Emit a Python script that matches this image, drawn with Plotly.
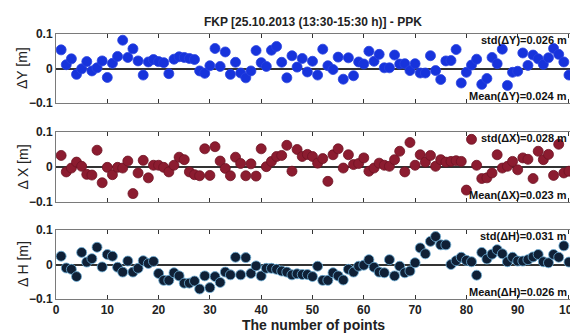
import plotly.graph_objects as go

points = list(range(1, 101))

dY = [0.054, 0.011, 0.028, -0.017, -0.001, 0.020, -0.007, 0.002, 0.022, -0.026,
      0.015, 0.035, 0.082, 0.032, 0.057, 0.022, -0.019, 0.019, 0.026, 0.020,
      0.017, -0.015, 0.027, 0.034, 0.032, 0.029, 0.026, -0.007, -0.014, 0.008,
      0.058, 0.006, 0.048, -0.017, 0.018, -0.013, -0.027, -0.007, 0.052, 0.017,
      0.006, 0.053, 0.064, 0.018, -0.027, 0.037, 0.004, 0.029, -0.010, 0.021,
      -0.019, 0.056, 0.008, -0.003, 0.033, -0.031, 0.031, -0.021, 0.019, 0.013,
      0.050, 0.021, 0.041, 0.002, 0.002, 0.039, 0.013, 0.014, -0.006, 0.014,
      -0.013, -0.013, 0.037, -0.006, -0.032, 0.022, 0.023, 0.055, -0.042, -0.011,
      0.010, 0.027, -0.046, -0.029, 0.032, 0.014, 0.056, -0.049, -0.011, -0.008,
      0.045, 0.009, 0.039, 0.028, 0.012, 0.031, 0.058, 0.041, 0.019, -0.019]

dX = [0.033, -0.014, -0.003, 0.014, 0.002, -0.021, -0.023, 0.048, -0.045, -0.001,
      -0.022, -0.001, -0.003, 0.017, -0.076, -0.017, 0.019, -0.031, 0.005, 0.005,
      -0.001, -0.014, 0.005, 0.028, 0.021, -0.014, -0.022, -0.025, 0.052, -0.024,
      0.058, 0.017, -0.004, -0.025, 0.028, 0.010, -0.025, 0.009, -0.026, 0.052,
      0.001, 0.016, 0.030, 0.033, 0.062, -0.012, 0.050, 0.030, 0.036, 0.030,
      0.011, 0.024, -0.041, 0.035, 0.052, -0.003, 0.035, 0.007, 0.010, 0.026,
      -0.012, -0.003, 0.011, 0.005, 0.002, 0.021, 0.045, -0.014, 0.070, 0.005,
      0.035, 0.014, 0.033, 0.002, 0.021, 0.014, 0.016, 0.018, 0.016, -0.066,
      0.079, 0.005, -0.033, -0.031, -0.017, 0.035, -0.003, 0.002, 0.016, -0.008,
      0.026, 0.022, -0.033, 0.045, 0.021, 0.036, -0.024, 0.065, -0.017, -0.012]

dH = [0.024, -0.010, -0.014, -0.035, 0.035, 0.007, 0.017, 0.050, -0.007, 0.029,
      0.024, -0.008, -0.022, 0.010, -0.022, -0.011, 0.011, 0.003, 0.009, -0.026,
      -0.046, -0.046, -0.024, -0.033, -0.054, -0.054, -0.048, -0.071, -0.033, -0.067,
      -0.035, -0.052, -0.022, -0.030, 0.021, -0.030, 0.020, -0.026, -0.004, -0.033,
      -0.011, -0.011, -0.014, -0.019, -0.022, -0.030, -0.027, -0.029, -0.029, -0.035,
      -0.005, -0.046, -0.046, -0.024, -0.033, -0.045, -0.014, -0.022, -0.005, -0.002,
      0.014, -0.008, -0.022, -0.024, 0.014, -0.033, -0.005, -0.024, -0.019, 0.005,
      0.048, 0.031, 0.067, 0.081, 0.057, 0.057, 0.000, 0.011, 0.021, 0.012,
      0.008, -0.031, 0.035, 0.016, 0.030, 0.043, 0.031, 0.008, 0.021, 0.010,
      0.010, 0.014, 0.022, 0.029, 0.008, 0.005, 0.029, 0.021, 0.054, 0.007]

y_titles = ["\u0394Y [m]", "\u0394 X [m]", "\u0394 H [m]"]
std_texts = ["std(\u0394Y)=0.026 m", "std(\u0394X)=0.028 m", "std(\u0394H)=0.031 m"]
mean_texts = ["Mean(\u0394Y)=0.024 m", "Mean(\u0394X)=0.023 m", "Mean(\u0394H)=0.026 m"]
title_text = "FKP [25.10.2013 (13:30-15:30 h)] - PPK"
x_title = "The number of points"
x_ticks = [0, 10, 20, 30, 40, 50, 60, 70, 80, 90, 100]
y_ticks = [-0.1, 0, 0.1]
y_ticklabels = ["\u22120.1", "0", "0.1"]

W, H = 570, 333
# panel pixel extents (top, bottom)
panels_px = [(34, 103), (132, 202), (230, 299)]
colors = ["#1733dc", "#8c1c30", "#0f2036"]
edge_colors = ["#2a44e0", "#6e1424", "#6fb0d8"]

fig = go.Figure()
FONT = "Arial, Liberation Sans, sans-serif"
series = [dY, dX, dH]
for i, vals in enumerate(series):
    xa = "x" if i == 0 else f"x{i+1}"
    ya = "y" if i == 0 else f"y{i+1}"
    fig.add_trace(go.Scatter(
        x=points, y=vals, mode="markers",
        marker=dict(size=10, color=colors[i], line=dict(color=edge_colors[i], width=0.8)),
        xaxis=xa, yaxis=ya, showlegend=False, cliponaxis=True))

layout = dict(width=W, height=H, margin=dict(l=56, r=0, t=0, b=0),
              plot_bgcolor="white", paper_bgcolor="white",
              font=dict(family=FONT, color="#222"), showlegend=False)

annotations = []
for i in range(3):
    top, bot = panels_px[i]
    dom = [1 - bot / H, 1 - top / H]
    xk = "xaxis" if i == 0 else f"xaxis{i+1}"
    yk = "yaxis" if i == 0 else f"yaxis{i+1}"
    ya = "y" if i == 0 else f"y{i+1}"
    layout[xk] = dict(domain=[0, 1], range=[0, 100.2], anchor=ya,
                      tickvals=x_ticks, ticks="inside", ticklen=4, tickcolor="#333",
                      showticklabels=(i == 2), showline=True, linecolor="#7a7a7a",
                      linewidth=1, mirror="ticks", showgrid=False, zeroline=False,
                      tickfont=dict(size=12, family=FONT, color="#222", weight="bold"),
                      ticklabeloverflow="allow", automargin=False)
    if i == 2:
        layout[xk]["ticklabelstandoff"] = 0
    layout[yk] = dict(domain=dom, range=[-0.1, 0.1], anchor="x" if i == 0 else f"x{i+1}",
                      tickvals=y_ticks, ticktext=y_ticklabels, ticks="inside", ticklen=4,
                      tickcolor="#333", showline=True, linecolor="#7a7a7a", linewidth=1,
                      mirror=False, showgrid=False, zeroline=True, zerolinecolor="#333",
                      zerolinewidth=1.5,
                      tickfont=dict(size=12, family=FONT, color="#222", weight="bold"),
                      automargin=False)
    mid = (top + bot) / 2
    annotations.append(dict(text=y_titles[i], xref="paper", yref="paper",
                            x=-0.065, y=1 - mid / H, xanchor="center", yanchor="middle",
                            textangle=-90, showarrow=False,
                            font=dict(size=14, family=FONT, color="#222")))
    annotations.append(dict(text=std_texts[i], xref="paper", yref="paper",
                            x=0.998, y=1 - (top + 6) / H, xanchor="right", yanchor="middle",
                            showarrow=False,
                            font=dict(size=11, family=FONT, color="#111", weight="bold")))
    annotations.append(dict(text=mean_texts[i], xref="paper", yref="paper",
                            x=0.998, y=1 - (bot - 7) / H, xanchor="right", yanchor="middle",
                            showarrow=False,
                            font=dict(size=11, family=FONT, color="#111", weight="bold")))

annotations.append(dict(text=title_text, xref="paper", yref="paper", x=0.5,
                        y=1 - 22 / H, xanchor="center", yanchor="middle", showarrow=False,
                        font=dict(size=12, family=FONT, color="#222", weight="bold")))
annotations.append(dict(text=x_title, xref="paper", yref="paper", x=0.5,
                        y=1 - 325 / H, xanchor="center", yanchor="middle", showarrow=False,
                        font=dict(size=14, family=FONT, color="#222", weight="bold")))
layout["annotations"] = annotations
fig.update_layout(**layout)
fig.write_html("out.html", config={"displayModeBar": False},
               post_script="document.body.style.margin='0';document.body.style.padding='0';document.body.style.overflow='hidden';")
